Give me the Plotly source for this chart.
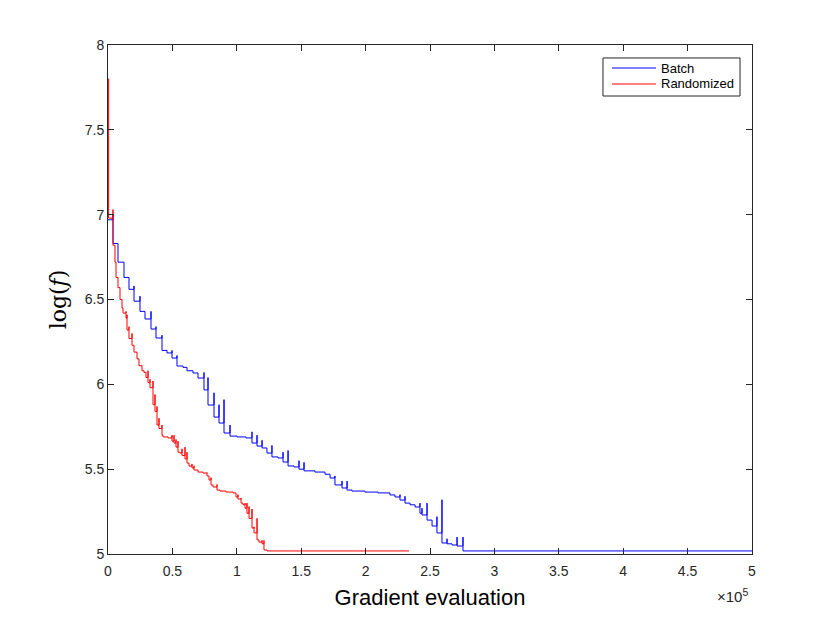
import plotly.graph_objects as go

# Batch run: gradient evaluations at each drop, new log(f) level, spike top (None = no spike)
batch_start = 6.97
batch_x = [3880, 7760, 12420, 16300, 20190, 24840, 28730, 33390, 37270, 41930,
           45810, 49690, 53570, 58230, 61340, 66000, 69880, 74530, 77640, 82300,
           86180, 90060, 94720, 100200, 107100, 111800, 115700, 119600, 123400, 127300,
           132000, 135900, 139800, 144400, 148300, 152200, 160700, 168500, 172400, 176200,
           181700, 185600, 189400, 199500, 209600, 218900, 222800, 226700, 230600, 234500,
           238400, 242200, 243800, 247700, 251600, 255400, 259300, 263200, 267100, 271000,
           275600]
batch_level = [6.83, 6.72, 6.63, 6.56, 6.49, 6.43, 6.385, 6.326, 6.273, 6.20,
               6.185, 6.155, 6.108, 6.10, 6.08, 6.067, 6.037, 5.967, 5.878, 5.807,
               5.772, 5.713, 5.695, 5.69, 5.684, 5.654, 5.636, 5.625, 5.595, 5.572,
               5.566, 5.542, 5.519, 5.513, 5.50, 5.49, 5.483, 5.47, 5.448, 5.407,
               5.389, 5.377, 5.371, 5.365, 5.36, 5.348, 5.336, 5.318, 5.30, 5.29,
               5.277, 5.24, 5.23, 5.20, 5.165, 5.124, 5.065, 5.06, 5.053, 5.047,
               5.018]
batch_spike = [7.00, None, None, None, 6.58, 6.52, None, 6.43, 6.34, 6.29,
               None, 6.20, 6.17, None, None, None, None, 6.07, 6.04, 5.95,
               5.88, 5.91, 5.76, None, None, 5.72, 5.70, 5.67, None, 5.64,
               None, 5.60, 5.61, None, 5.55, 5.54, None, None, None, 5.46,
               5.43, 5.43, None, None, None, None, None, 5.35, 5.34, None,
               None, 5.30, 5.27, 5.30, None, 5.22, 5.32, 5.09, None, 5.10,
               5.10]
batch_end = 500000

# Randomized run
rand_start = 7.80
rand_x = [500, 3880, 5430, 6210, 7760, 9320, 10870, 11650, 13980, 14750,
          16300, 18630, 20190, 22520, 24070, 26400, 27950, 29500, 31060, 32610,
          34940, 36490, 38040, 39600, 41930, 42700, 46580, 49690, 51240, 52800,
          54350, 55900, 57450, 59780, 61340, 62890, 65220, 66770, 69880, 73760,
          76860, 78420, 79970, 81520, 84630, 86960, 91610, 97050, 99380, 100900,
          103300, 104800, 106400, 107900, 109500, 111800, 113400, 115700, 117200, 119600,
          121100, 123400]
rand_level = [6.98, 6.82, 6.72, 6.63, 6.57, 6.50, 6.45, 6.42, 6.39, 6.32,
              6.27, 6.23, 6.19, 6.15, 6.11, 6.08, 6.07, 6.04, 6.01, 5.98,
              5.88, 5.84, 5.76, 5.74, 5.70, 5.69, 5.684, 5.665, 5.654, 5.63,
              5.60, 5.595, 5.58, 5.56, 5.536, 5.518, 5.507, 5.495, 5.483, 5.477,
              5.46, 5.436, 5.407, 5.395, 5.377, 5.371, 5.365, 5.36, 5.336, 5.324,
              5.30, 5.29, 5.27, 5.24, 5.21, 5.153, 5.124, 5.083, 5.07, 5.06,
              5.024, 5.018]
rand_spike = [None, 7.03, None, None, None, None, None, None, 6.43, 6.41,
              6.34, 6.30, None, None, None, None, None, None, 6.08, 6.03,
              6.02, 5.94, 5.87, 5.80, 5.76, None, None, 5.70, 5.70, 5.675,
              5.665, None, 5.62, 5.63, 5.60, None, 5.53, 5.52, None, None,
              5.48, None, 5.45, None, 5.41, None, None, None, None, 5.35,
              5.33, None, 5.30, 5.30, 5.28, 5.265, 5.16, 5.21, None, 5.08,
              5.08, None]
rand_end = 233700

series_names = ['Batch', 'Randomized']
series_colors = ['rgb(0,0,255)', 'rgb(255,0,0)']

xtick_vals = [0, 50000, 100000, 150000, 200000, 250000, 300000, 350000, 400000, 450000, 500000]
xtick_text = ['0', '0.5', '1', '1.5', '2', '2.5', '3', '3.5', '4', '4.5', '5']
ytick_vals = [5, 5.5, 6, 6.5, 7, 7.5, 8]
ytick_text = ['5', '5.5', '6', '6.5', '7', '7.5', '8']


def step_path(start, xs, levels, spikes, x_end):
    """Builds the vertices of a step curve with spikes at the drops."""
    px = [0]
    py = [start]
    prev = start
    for x, lv, sp in zip(xs, levels, spikes):
        px.append(x)
        py.append(prev)
        if sp is not None:
            px.append(x)
            py.append(sp)
        px.append(x)
        py.append(lv)
        prev = lv
    px.append(x_end)
    py.append(prev)
    return px, py


bx, by = step_path(batch_start, batch_x, batch_level, batch_spike, batch_end)
rx, ry = step_path(rand_start, rand_x, rand_level, rand_spike, rand_end)

axis_col = '#262626'
fig = go.Figure()
fig.add_trace(go.Scatter(x=bx, y=by, mode='lines', name=series_names[0],
                         line=dict(color=series_colors[0], width=1)))
fig.add_trace(go.Scatter(x=rx, y=ry, mode='lines', name=series_names[1],
                         line=dict(color=series_colors[1], width=1)))

# the page has an 8px body margin, so the margins are shifted by it
fig.update_layout(
    width=830, height=623,
    margin=dict(l=100, r=86, t=37, b=77),
    paper_bgcolor='white', plot_bgcolor='white',
    font=dict(family='Liberation Sans, Arial, sans-serif', size=14, color=axis_col),
    showlegend=False,
    xaxis=dict(range=[0, 500000], tickvals=xtick_vals, ticktext=xtick_text,
               showgrid=False, zeroline=False, showline=True, linecolor=axis_col,
               linewidth=1, mirror='ticks', ticks='inside', ticklen=6,
               tickcolor=axis_col, ticklabelstandoff=4,
               title=dict(text='Gradient evaluation', standoff=11,
                          font=dict(size=22, color='black'))),
    yaxis=dict(range=[5, 8], tickvals=ytick_vals, ticktext=ytick_text,
               showgrid=False, zeroline=False, showline=True, linecolor=axis_col,
               linewidth=1, mirror='ticks', ticks='inside', ticklen=6,
               tickcolor=axis_col,
               title=dict(text='log(<i>f</i>)', standoff=12,
                          font=dict(family='DejaVu Serif, Liberation Serif, serif',
                                    size=22, color='black'))),
)

# MATLAB style legend box in the upper right corner
fig.add_shape(type='rect', xref='paper', yref='paper', x0=0.7686, x1=0.9814,
              y0=0.8998, y1=0.9745, line=dict(color=axis_col, width=1),
              fillcolor='white', layer='above')
for i, (name, col) in enumerate(zip(series_names, series_colors)):
    yy = 0.9548 - i * 0.0314
    fig.add_shape(type='line', xref='paper', yref='paper', x0=0.7826, x1=0.8509,
                  y0=yy, y1=yy, line=dict(color=col, width=1), layer='above')
    fig.add_annotation(text=name, xref='paper', yref='paper', x=0.856, y=yy,
                       xanchor='left', yanchor='middle', showarrow=False,
                       font=dict(size=13, color='black'))

# exponent label of the x axis
fig.add_annotation(text='×10<sup>5</sup>', xref='paper', yref='paper',
                   x=0.997, y=-0.082, xanchor='right', yanchor='middle',
                   showarrow=False, font=dict(size=15, color=axis_col))

fig.write_html("out.html")
